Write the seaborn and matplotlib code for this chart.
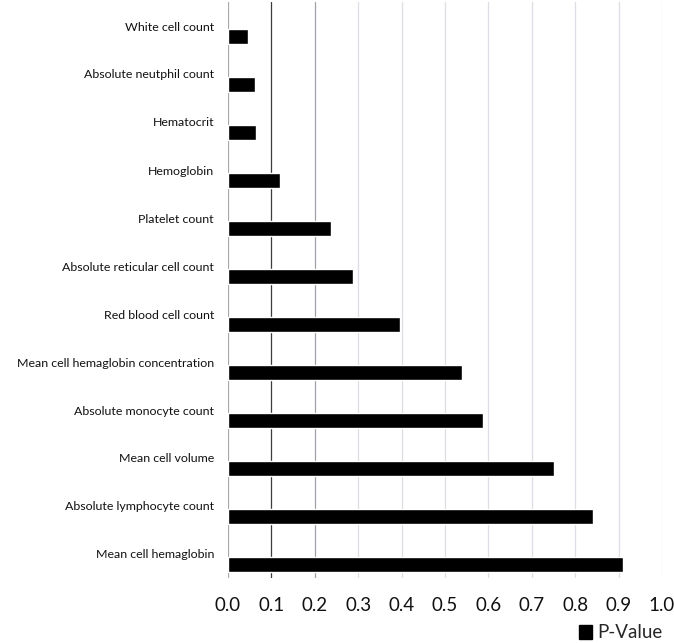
import numpy as np
import pandas as pd
import matplotlib
matplotlib.use("Agg")
import matplotlib.pyplot as plt
from matplotlib.patches import Patch
import seaborn as sns

# Data
labels = [
    "White cell count",
    "Absolute neutphil count",
    "Hematocrit",
    "Hemoglobin",
    "Platelet count",
    "Absolute reticular cell count",
    "Red blood cell count",
    "Mean cell hemaglobin concentration",
    "Absolute monocyte count",
    "Mean cell volume",
    "Absolute lymphocyte count",
    "Mean cell hemaglobin",
]
p_values = [0.046, 0.063, 0.064, 0.119, 0.237, 0.289, 0.396, 0.54, 0.587, 0.752, 0.841, 0.909]
x_ticks = [0.0, 0.1, 0.2, 0.3, 0.4, 0.5, 0.6, 0.7, 0.8, 0.9, 1.0]
series_name = "P-Value"

df = pd.DataFrame({"label": labels, "value": p_values})

sns.set_theme(style="white")
plt.rcParams["font.family"] = ["Lato", "DejaVu Sans"]

fig = plt.figure(figsize=(6.74, 6.43), dpi=100)
ax = fig.add_axes([228 / 674, 1 - 578 / 643, 434 / 674, 576 / 643])

sns.barplot(data=df, x="value", y="label", order=labels, orient="h",
            color="black", saturation=1, width=0.33, ax=ax)

n = len(labels)
shift = 0.22  # labels sit a bit above their bar (Excel style)
ax.set_xlim(0, 1.0)
ax.set_ylim(n - 0.5 - shift, -0.5 - shift)
ax.set_yticks(np.arange(n) - shift)
ax.set_yticklabels(labels)
ax.set_xticks(x_ticks)
ax.set_xticklabels([f"{t:.1f}" for t in x_ticks], fontsize=13.5, color="#111111")
ax.tick_params(axis="x", length=0, pad=14)
ax.tick_params(axis="y", length=0, pad=10, labelsize=8.9, labelcolor="#111111")
ax.set_xlabel("")
ax.set_ylabel("")

ax.xaxis.grid(True)
grid_colors = ["#a8a8a8", "#3c3c3c", "#a0a0a8"] + ["#dddde6"] * 8
for line, c in zip(ax.get_xgridlines(), grid_colors):
    line.set_color(c)
    line.set_linewidth(0.9)
ax.set_axisbelow(True)

for side in ["top", "right", "bottom", "left"]:
    ax.spines[side].set_visible(False)

fig.legend(
    handles=[Patch(facecolor="black", edgecolor="black", label=series_name)],
    loc="center right", bbox_to_anchor=(672 / 674, 1 - 633 / 643),
    frameon=False, fontsize=13.5, handlelength=0.7, handleheight=0.7,
    handletextpad=0.3, borderpad=0,
)

fig.savefig("out.png", dpi=100)
